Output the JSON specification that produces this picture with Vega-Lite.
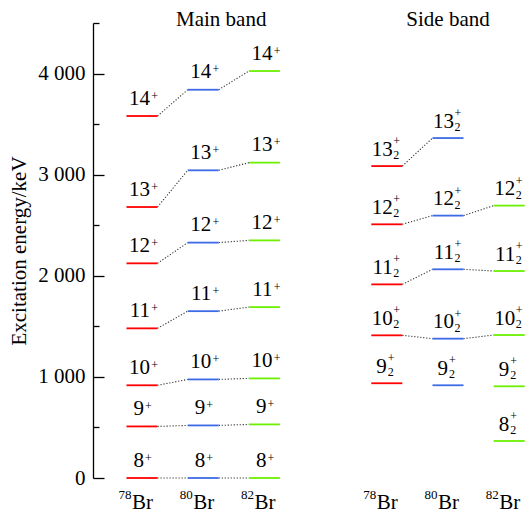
{
  "$schema": "https://vega.github.io/schema/vega-lite/v6.json",
  "width": 435,
  "height": 455,
  "autosize": {"type": "none"},
  "padding": {"left": 93, "top": 23, "right": 0, "bottom": 36},
  "config": {
    "view": {"stroke": null},
    "font": "Liberation Serif",
    "text": {"font": "Liberation Serif", "color": "black"},
    "axis": {"labelFont": "Liberation Serif", "titleFont": "Liberation Serif", "labelColor": "black", "titleColor": "black", "grid": false}
  },
  "datasets": {
    "levels": [
      {"band": "Main", "col": "M78", "nucleus": "78Br", "spin": 8, "E": 0},
      {"band": "Main", "col": "M78", "nucleus": "78Br", "spin": 9, "E": 510},
      {"band": "Main", "col": "M78", "nucleus": "78Br", "spin": 10, "E": 917},
      {"band": "Main", "col": "M78", "nucleus": "78Br", "spin": 11, "E": 1480},
      {"band": "Main", "col": "M78", "nucleus": "78Br", "spin": 12, "E": 2123},
      {"band": "Main", "col": "M78", "nucleus": "78Br", "spin": 13, "E": 2680},
      {"band": "Main", "col": "M78", "nucleus": "78Br", "spin": 14, "E": 3580},
      {"band": "Main", "col": "M80", "nucleus": "80Br", "spin": 8, "E": 0},
      {"band": "Main", "col": "M80", "nucleus": "80Br", "spin": 9, "E": 520},
      {"band": "Main", "col": "M80", "nucleus": "80Br", "spin": 10, "E": 975},
      {"band": "Main", "col": "M80", "nucleus": "80Br", "spin": 11, "E": 1650},
      {"band": "Main", "col": "M80", "nucleus": "80Br", "spin": 12, "E": 2328},
      {"band": "Main", "col": "M80", "nucleus": "80Br", "spin": 13, "E": 3043},
      {"band": "Main", "col": "M80", "nucleus": "80Br", "spin": 14, "E": 3840},
      {"band": "Main", "col": "M82", "nucleus": "82Br", "spin": 8, "E": 0},
      {"band": "Main", "col": "M82", "nucleus": "82Br", "spin": 9, "E": 530},
      {"band": "Main", "col": "M82", "nucleus": "82Br", "spin": 10, "E": 985},
      {"band": "Main", "col": "M82", "nucleus": "82Br", "spin": 11, "E": 1690},
      {"band": "Main", "col": "M82", "nucleus": "82Br", "spin": 12, "E": 2350},
      {"band": "Main", "col": "M82", "nucleus": "82Br", "spin": 13, "E": 3119},
      {"band": "Main", "col": "M82", "nucleus": "82Br", "spin": 14, "E": 4025},
      {"band": "Side", "col": "S78", "nucleus": "78Br", "spin": 9, "E": 937},
      {"band": "Side", "col": "S78", "nucleus": "78Br", "spin": 10, "E": 1411},
      {"band": "Side", "col": "S78", "nucleus": "78Br", "spin": 11, "E": 1915},
      {"band": "Side", "col": "S78", "nucleus": "78Br", "spin": 12, "E": 2509},
      {"band": "Side", "col": "S78", "nucleus": "78Br", "spin": 13, "E": 3085},
      {"band": "Side", "col": "S80", "nucleus": "80Br", "spin": 9, "E": 917},
      {"band": "Side", "col": "S80", "nucleus": "80Br", "spin": 10, "E": 1378},
      {"band": "Side", "col": "S80", "nucleus": "80Br", "spin": 11, "E": 2064},
      {"band": "Side", "col": "S80", "nucleus": "80Br", "spin": 12, "E": 2595},
      {"band": "Side", "col": "S80", "nucleus": "80Br", "spin": 13, "E": 3362},
      {"band": "Side", "col": "S82", "nucleus": "82Br", "spin": 8, "E": 366},
      {"band": "Side", "col": "S82", "nucleus": "82Br", "spin": 9, "E": 907},
      {"band": "Side", "col": "S82", "nucleus": "82Br", "spin": 10, "E": 1414},
      {"band": "Side", "col": "S82", "nucleus": "82Br", "spin": 11, "E": 2047},
      {"band": "Side", "col": "S82", "nucleus": "82Br", "spin": 12, "E": 2694}
    ],
    "links": [
      {"col": "M78", "col2": "M80", "E": 0, "E2": 0},
      {"col": "M78", "col2": "M80", "E": 510, "E2": 520},
      {"col": "M78", "col2": "M80", "E": 917, "E2": 975},
      {"col": "M78", "col2": "M80", "E": 1480, "E2": 1650},
      {"col": "M78", "col2": "M80", "E": 2123, "E2": 2328},
      {"col": "M78", "col2": "M80", "E": 2680, "E2": 3043},
      {"col": "M78", "col2": "M80", "E": 3580, "E2": 3840},
      {"col": "M80", "col2": "M82", "E": 0, "E2": 0},
      {"col": "M80", "col2": "M82", "E": 520, "E2": 530},
      {"col": "M80", "col2": "M82", "E": 975, "E2": 985},
      {"col": "M80", "col2": "M82", "E": 1650, "E2": 1690},
      {"col": "M80", "col2": "M82", "E": 2328, "E2": 2350},
      {"col": "M80", "col2": "M82", "E": 3043, "E2": 3119},
      {"col": "M80", "col2": "M82", "E": 3840, "E2": 4025},
      {"col": "S78", "col2": "S80", "E": 1411, "E2": 1378},
      {"col": "S78", "col2": "S80", "E": 1915, "E2": 2064},
      {"col": "S78", "col2": "S80", "E": 2509, "E2": 2595},
      {"col": "S78", "col2": "S80", "E": 3085, "E2": 3362},
      {"col": "S80", "col2": "S82", "E": 1378, "E2": 1414},
      {"col": "S80", "col2": "S82", "E": 2064, "E2": 2047},
      {"col": "S80", "col2": "S82", "E": 2595, "E2": 2694}
    ],
    "bands": [
      {"col": "M80", "label": "Main band"},
      {"col": "S80", "label": "Side band"}
    ],
    "nuclei": [
      {"col": "M78", "A": "78"},
      {"col": "M80", "A": "80"},
      {"col": "M82", "A": "82"},
      {"col": "S78", "A": "78"},
      {"col": "S80", "A": "80"},
      {"col": "S82", "A": "82"}
    ]
  },
  "layer": [
    {
      "data": {"name": "links"},
      "mark": {"type": "rule", "xOffset": 15.5, "x2Offset": -15.5, "strokeDash": [1.2, 1.8], "strokeWidth": 1.1, "color": "#333333"},
      "encoding": {
        "x": {"field": "col", "type": "nominal",
              "scale": {"type": "point", "domain": ["M78", "M80", "M82", "gap", "S78", "S80", "S82"], "padding": 0.554, "align": 0.7227, "round": false},
              "axis": {"orient": "bottom", "title": null, "domain": false, "ticks": false, "labelAngle": 0,
                       "labelFontSize": 21, "labelPadding": 30, "labelBaseline": "alphabetic", "labelAlign": "left", "labelOffset": -10.5,
                       "labelExpr": "datum.value == 'gap' ? '' : 'Br'"}},
        "x2": {"field": "col2"},
        "y": {
          "field": "E", "type": "quantitative",
          "scale": {"domain": [0, 4500], "nice": false, "zero": true},
          "axis": {
            "title": "Excitation energy/keV", "titleFontSize": 21, "titleFontWeight": "normal", "titlePadding": 8,
            "values": [0, 500, 1000, 1500, 2000, 2500, 3000, 3500, 4000, 4500],
            "labelExpr": "datum.value % 1000 == 0 ? replace(format(datum.value, ','), ',', ' ') : ''",
            "labelFontSize": 21, "labelPadding": 19, "labelOverlap": false, "labelFlush": false,
            "tickSize": {"condition": {"test": "datum.value % 1000 == 0", "value": -11}, "value": -6},
            "domainColor": "black", "tickColor": "black", "domainWidth": 1.3, "tickWidth": 1.3
          }
        },
        "y2": {"field": "E2"}
      }
    },
    {
      "data": {"name": "levels"},
      "mark": {"type": "tick", "orient": "horizontal", "size": 31, "thickness": 1.8, "opacity": 1},
      "encoding": {
        "x": {"field": "col", "type": "nominal"},
        "y": {"field": "E", "type": "quantitative"},
        "color": {"field": "nucleus", "type": "nominal", "legend": null,
                  "scale": {"domain": ["78Br", "80Br", "82Br"], "range": ["#ff0000", "#3d6be6", "#6cf000"]}}
      }
    },
    {
      "data": {"name": "bands"},
      "transform": [{"filter": "datum.col == 'M80'"}],
      "mark": {"type": "text", "font": "Liberation Serif", "align": "center", "baseline": "alphabetic", "fontSize": 21, "color": "black", "dx": 18},
      "encoding": {"x": {"field": "col", "type": "nominal"}, "y": {"datum": 4470, "type": "quantitative"}, "text": {"field": "label", "type": "nominal"}}
    },
    {
      "data": {"name": "bands"},
      "transform": [{"filter": "datum.col == 'S80'"}],
      "mark": {"type": "text", "font": "Liberation Serif", "align": "center", "baseline": "alphabetic", "fontSize": 21, "color": "black"},
      "encoding": {"x": {"field": "col", "type": "nominal"}, "y": {"datum": 4470, "type": "quantitative"}, "text": {"field": "label", "type": "nominal"}}
    },
    {
      "data": {"name": "nuclei"},
      "mark": {"type": "text", "font": "Liberation Serif", "align": "right", "baseline": "alphabetic", "fontSize": 13, "color": "black", "dx": -10.5},
      "encoding": {"x": {"field": "col", "type": "nominal"}, "y": {"datum": -208, "type": "quantitative"}, "text": {"field": "A", "type": "nominal"}}
    },
    {
      "data": {"name": "levels"},
      "transform": [{"filter": "datum.band == 'Main' && datum.spin >= 10"}],
      "mark": {"type": "text", "font": "Liberation Serif", "align": "right", "baseline": "alphabetic", "dx": 8, "dy": -11.5, "fontSize": 21, "color": "black"},
      "encoding": {"x": {"field": "col", "type": "nominal"}, "y": {"field": "E", "type": "quantitative"}, "text": {"field": "spin", "type": "nominal"}}
    },
    {
      "data": {"name": "levels"},
      "transform": [{"filter": "datum.band == 'Main' && datum.spin < 10"}],
      "mark": {"type": "text", "font": "Liberation Serif", "align": "right", "baseline": "alphabetic", "dx": 2, "dy": -11.5, "fontSize": 21, "color": "black"},
      "encoding": {"x": {"field": "col", "type": "nominal"}, "y": {"field": "E", "type": "quantitative"}, "text": {"field": "spin", "type": "nominal"}}
    },
    {
      "data": {"name": "levels"},
      "transform": [{"filter": "datum.band == 'Main' && datum.spin >= 10"}],
      "mark": {"type": "text", "font": "Liberation Serif", "align": "left", "baseline": "alphabetic", "dx": 9.3, "dy": -16.5, "fontSize": 12, "color": "black", "text": "+"},
      "encoding": {"x": {"field": "col", "type": "nominal"}, "y": {"field": "E", "type": "quantitative"}}
    },
    {
      "data": {"name": "levels"},
      "transform": [{"filter": "datum.band == 'Main' && datum.spin < 10"}],
      "mark": {"type": "text", "font": "Liberation Serif", "align": "left", "baseline": "alphabetic", "dx": 3, "dy": -16.5, "fontSize": 12, "color": "black", "text": "+"},
      "encoding": {"x": {"field": "col", "type": "nominal"}, "y": {"field": "E", "type": "quantitative"}}
    },
    {
      "data": {"name": "levels"},
      "transform": [{"filter": "datum.band == 'Side' && datum.spin >= 10"}],
      "mark": {"type": "text", "font": "Liberation Serif", "align": "right", "baseline": "alphabetic", "dx": 6, "dy": -10.3, "fontSize": 21, "color": "black"},
      "encoding": {"x": {"field": "col", "type": "nominal"}, "y": {"field": "E", "type": "quantitative"}, "text": {"field": "spin", "type": "nominal"}}
    },
    {
      "data": {"name": "levels"},
      "transform": [{"filter": "datum.band == 'Side' && datum.spin < 10"}],
      "mark": {"type": "text", "font": "Liberation Serif", "align": "right", "baseline": "alphabetic", "dx": 0, "dy": -10.3, "fontSize": 21, "color": "black"},
      "encoding": {"x": {"field": "col", "type": "nominal"}, "y": {"field": "E", "type": "quantitative"}, "text": {"field": "spin", "type": "nominal"}}
    },
    {
      "data": {"name": "levels"},
      "transform": [{"filter": "datum.band == 'Side' && datum.spin >= 10"}],
      "mark": {"type": "text", "font": "Liberation Serif", "align": "left", "baseline": "alphabetic", "dx": 6.5, "dy": -21, "fontSize": 12, "color": "black", "text": "+"},
      "encoding": {"x": {"field": "col", "type": "nominal"}, "y": {"field": "E", "type": "quantitative"}}
    },
    {
      "data": {"name": "levels"},
      "transform": [{"filter": "datum.band == 'Side' && datum.spin >= 10"}],
      "mark": {"type": "text", "font": "Liberation Serif", "align": "left", "baseline": "alphabetic", "dx": 6.5, "dy": -7, "fontSize": 12, "color": "black", "text": "2"},
      "encoding": {"x": {"field": "col", "type": "nominal"}, "y": {"field": "E", "type": "quantitative"}}
    },
    {
      "data": {"name": "levels"},
      "transform": [{"filter": "datum.band == 'Side' && datum.spin < 10"}],
      "mark": {"type": "text", "font": "Liberation Serif", "align": "left", "baseline": "alphabetic", "dx": 1, "dy": -21, "fontSize": 12, "color": "black", "text": "+"},
      "encoding": {"x": {"field": "col", "type": "nominal"}, "y": {"field": "E", "type": "quantitative"}}
    },
    {
      "data": {"name": "levels"},
      "transform": [{"filter": "datum.band == 'Side' && datum.spin < 10"}],
      "mark": {"type": "text", "font": "Liberation Serif", "align": "left", "baseline": "alphabetic", "dx": 1, "dy": -7, "fontSize": 12, "color": "black", "text": "2"},
      "encoding": {"x": {"field": "col", "type": "nominal"}, "y": {"field": "E", "type": "quantitative"}}
    }
  ]
}
